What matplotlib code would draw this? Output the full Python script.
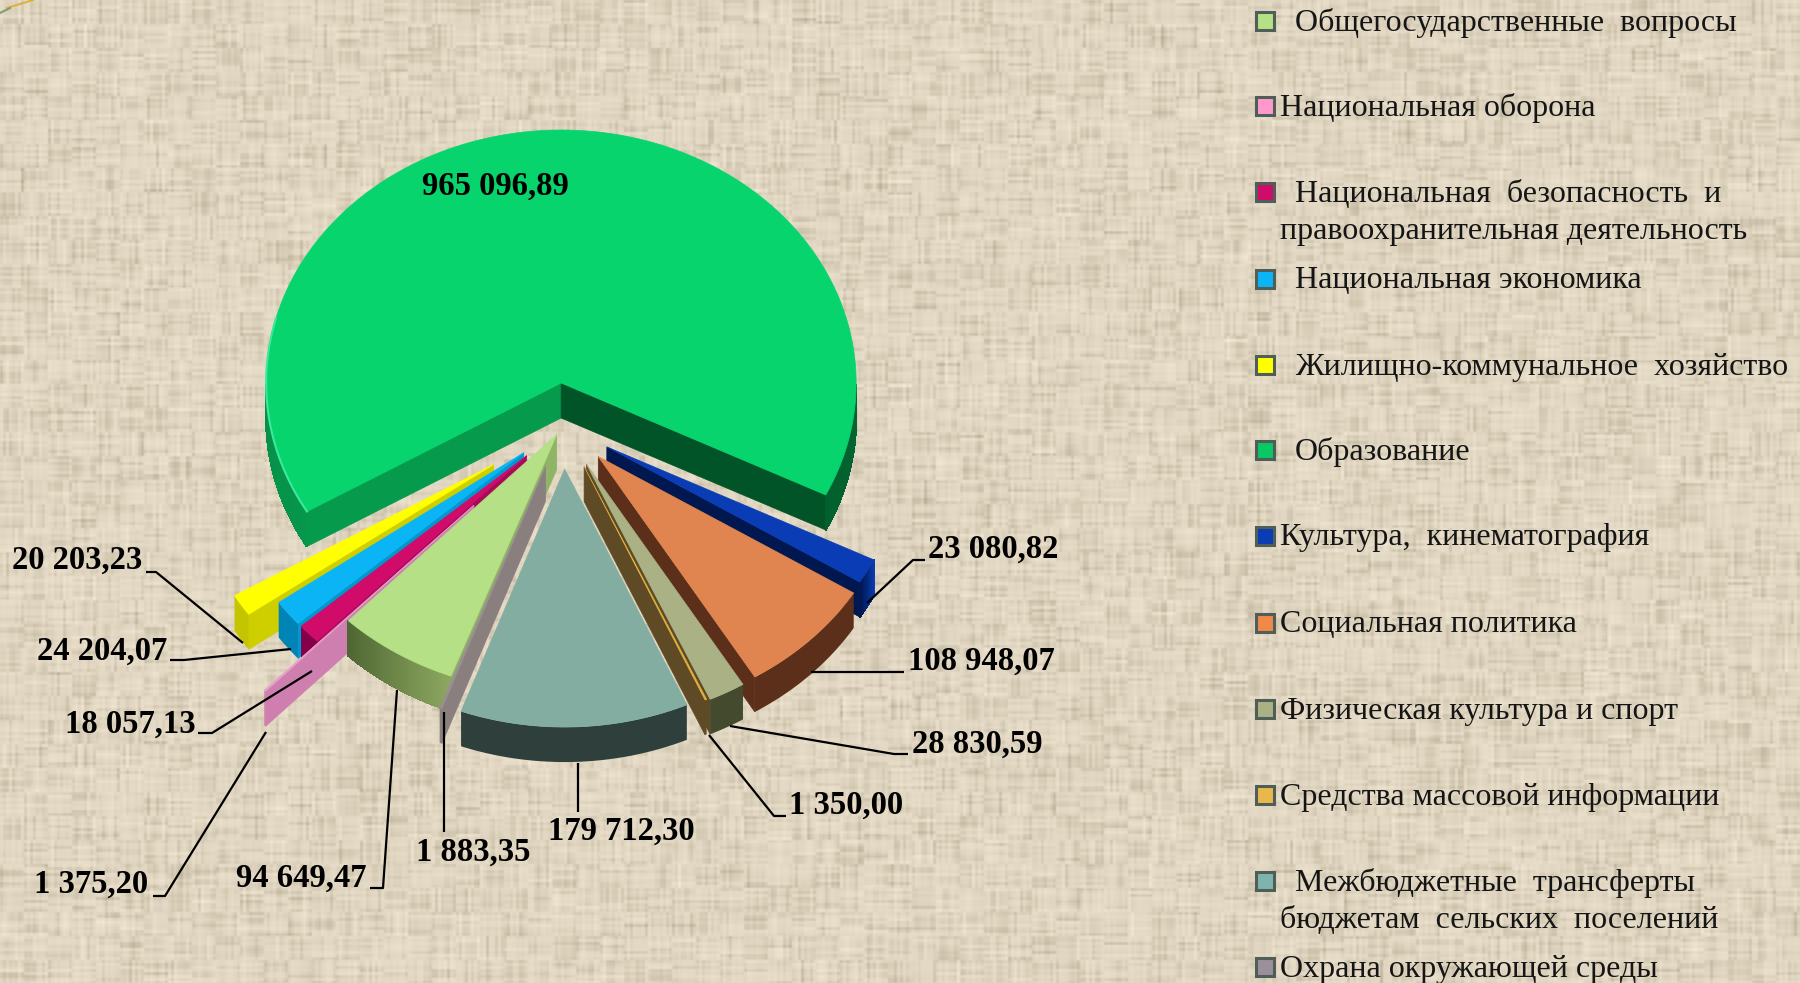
import numpy as np
import matplotlib
matplotlib.use("Agg")
import matplotlib.pyplot as plt
from matplotlib.colors import to_rgb
from matplotlib.patches import Polygon, Rectangle

# legend order, the pie runs clockwise in the same order
values = [94649.47, 1375.20, 18057.13, 24204.07, 20203.23, 965096.89,
          23080.82, 108948.07, 28830.59, 1350.00, 179712.30, 1883.35]
legend_lines = [
    ["Общегосударственные  вопросы"],
    ["Национальная оборона"],
    ["Национальная  безопасность  и", "правоохранительная деятельность"],
    ["Национальная экономика"],
    ["Жилищно-коммунальное  хозяйство"],
    ["Образование"],
    ["Культура,  кинематография"],
    ["Социальная политика"],
    ["Физическая культура и спорт"],
    ["Средства массовой информации"],
    ["Межбюджетные  трансферты", "бюджетам  сельских  поселений"],
    ["Охрана окружающей среды"],
]
legend_y = [21, 106, 192, 279, 365, 450, 536, 623, 709, 795, 881, 967]
legend_x = [1295, 1280, 1295, 1295, 1295, 1295, 1280, 1280, 1280, 1280, 1295, 1280]

top_col = ["#B5E085", "#E8A0C8", "#D00B6A", "#0BB5F5", "#FFFF00", "#07D46D",
           "#0A3DB5", "#E0854F", "#AAB185", "#E0B040", "#84ADA2", "#9A8F8F"]
wall_col = ["#8FB465", "#CF7FAF", "#A80A58", "#0098D0", "#CFCF00", "#059A4C",
            "#00174F", "#5C2F1A", "#5E4B25", "#5E4B25", "#2E3F3C", "#8A7F7F"]
wall2_col = ["#8FB465", "#CF7FAF", "#A80A58", "#0098D0", "#CFCF00", "#015427",
             "#00174F", "#5C2F1A", "#5E4B25", "#5E4B25", "#2E3F3C", "#8A7F7F"]
arc_a = ["#8CA860", "#CF7FAF", "#85004A", "#0083B5", "#C4C400", "#06964C",
         "#0A3DB5", "#5C2F1A", "#444A2E", "#5E4B25", "#2E3F3C", "#8A7F7F"]
arc_b = ["#4F6633", "#CF7FAF", "#85004A", "#0083B5", "#C4C400", "#02602E",
         "#00174F", "#5C2F1A", "#444A2E", "#5E4B25", "#2E3F3C", "#8A7F7F"]
marker_col = ["#B5E085", "#FF99CC", "#D00B6A", "#0BB5F5", "#FFFF00", "#07C864",
              "#0A3DB5", "#F08848", "#AAB185", "#E8B84C", "#7DB5AC", "#9A8F9A"]
explode = [0.04, 0.435, 0.17, 0.17, 0.28, 0.17, 0.17, 0.17, 0.17, 0.175, 0.17, 0.17]
size = [1.02, 1.02, 1.02, 1.02, 1.02, 1.0, 1.01, 1.02, 1.02, 1.01, 1.02, 1.02]
draw_order = [5, 6, 7, 8, 9, 4, 3, 2, 1, 0, 11, 10]

# left edge of each value label, same order as values
label_x = [236, 34, 65, 37, 12, 422, 928, 908, 912, 789, 548, 416]
label_y = [878, 884, 724, 651, 560, 186, 549, 661, 744, 805, 831, 852]

leaders = [
    [(370, 888), (383, 888), (397, 690)],
    [(153, 896), (165, 896), (266, 732)],
    [(198, 733), (212, 733), (312, 671)],
    [(170, 660), (184, 660), (291, 649)],
    [(146, 572), (156, 572), (243, 643)],
    [(925, 560), (913, 560), (867, 603)],
    [(904, 672), (811, 672)],
    [(908, 754), (894, 754), (730, 726)],
    [(786, 816), (774, 816), (709, 735)],
    [(578, 812), (578, 763)],
    [(444, 832), (444, 712)],
]

center = (563, 426)
rx, ry = 295, 253
depth = 35
start = 200.6


def fmt(v):
    return f"{v:,.2f}".replace(",", " ").replace(".", ",")


def rim_xy(apex, scale, a):
    r = np.radians(a)
    return apex[0] + scale * rx * np.sin(r), apex[1] - scale * ry * np.cos(r)


def streaks(shape, run, rng):
    # short woven threads: thin across, long along
    n = rng.normal(0, 1, (shape[0] // 3 + 2, shape[1] // run + 2))
    n = np.kron(n, np.ones((3, run)))[:shape[0], :shape[1]]
    return n


fig = plt.figure(figsize=(18, 9.83), dpi=100)
ax = fig.add_axes([0, 0, 1, 1])
ax.set_xlim(0, 1800)
ax.set_ylim(983, 0)
ax.axis("off")

# woven paper background, decoration only
rng = np.random.default_rng(7)
h, w = 983, 1800
across = streaks((h, w), 24, rng)
along = streaks((w, h), 24, rng).T
weave = (across + along) * 0.5
kernel = np.array([0.25, 0.5, 0.25])
weave = np.apply_along_axis(lambda c: np.convolve(c, kernel, mode="same"), 0, weave)
weave = np.apply_along_axis(lambda c: np.convolve(c, kernel, mode="same"), 1, weave)
tex = np.where(weave < 0, weave * 14, weave * 7)
base = np.array([224, 214, 193], dtype=float)
img = np.clip(base[None, None, :] + tex[:, :, None] * np.array([1.0, 1.0, 1.1]), 0, 255) / 255
ax.imshow(img, extent=(0, 1800, 983, 0), aspect="auto", zorder=0, interpolation="nearest")

fracs = np.array(values) / sum(values) * 360
a0s = start + np.concatenate(([0], np.cumsum(fracs)[:-1]))
a1s = a0s + fracs

for i in draw_order:
    a0, a1 = a0s[i], a1s[i]
    mid = np.radians((a0 + a1) / 2)
    apex = (center[0] + explode[i] * rx * np.sin(mid),
            center[1] - explode[i] * ry * np.cos(mid))
    s = size[i]
    ang = np.linspace(a0, a1, max(8, int((a1 - a0) * 4)))
    xs, ys = rim_xy(apex, s, ang)

    # radial walls facing the viewer
    if np.sin(np.radians(a0)) < 0:
        cx, cy = rim_xy(apex, s, a0)
        ax.add_patch(Polygon([apex, (cx, cy), (cx, cy + depth), (apex[0], apex[1] + depth)],
                             fc=wall_col[i], ec=wall_col[i], lw=0.5, zorder=3))
    if np.sin(np.radians(a1)) > 0:
        cx, cy = rim_xy(apex, s, a1)
        ax.add_patch(Polygon([apex, (cx, cy), (cx, cy + depth), (apex[0], apex[1] + depth)],
                             fc=wall2_col[i], ec=wall2_col[i], lw=0.5, zorder=3))

    # outer face, only the front part of the rim
    c0, c1 = np.array(to_rgb(arc_a[i])), np.array(to_rgb(arc_b[i]))
    mods = ang % 360
    front = (mods > 90) & (mods < 270)
    # the big slice crosses the back, so split its front into two runs
    runs = [front & (ang <= 360), front & (ang > 360)]
    for run in runs:
        if run.sum() < 2:
            continue
        rx_, ry_ = xs[run], ys[run]
        outline = list(zip(rx_, ry_)) + list(zip(rx_[::-1], ry_[::-1] + depth))
        t = np.where(run)[0] / max(1, len(ang) - 1)
        ax.add_patch(Polygon(outline, fc=c0 + (c1 - c0) * t.mean(), ec="none", zorder=3))
        if arc_a[i] != arc_b[i]:
            for k in range(len(rx_) - 1):
                col = c0 + (c1 - c0) * t[k]
                ax.add_patch(Polygon([(rx_[k], ry_[k]), (rx_[k + 1], ry_[k + 1]),
                                      (rx_[k + 1], ry_[k + 1] + depth), (rx_[k], ry_[k] + depth)],
                                     fc=col, ec=col, lw=0.8, zorder=3, antialiased=False))

    # top face
    ax.add_patch(Polygon([apex] + list(zip(xs, ys)), fc=top_col[i], ec=top_col[i],
                         lw=0.5, zorder=3))
    if i == 5:
        rim = (mods > 180) & (mods < 285)
        ax.plot(xs[rim], ys[rim], color="#3CE89A", lw=1.5, zorder=3)

for pts in leaders:
    px, py = zip(*pts)
    ax.plot(px, py, color="black", lw=1.6, zorder=4, solid_capstyle="butt")

for i, v in enumerate(values):
    ax.text(label_x[i], label_y[i], fmt(v), family="Liberation Serif", weight="bold",
            fontsize=23.5, color="black", ha="left", va="center", zorder=5)

# legend
for i, lines in enumerate(legend_lines):
    y = legend_y[i]
    ax.add_patch(Rectangle((1256, y - 9), 18, 18, fc=marker_col[i], ec="#4F5F58", lw=2.2, zorder=4))
    ax.text(legend_x[i], y + 2, lines[0], family="Liberation Serif", fontsize=23,
            color="#151515", ha="left", va="center", zorder=5)
    if len(lines) > 1:
        ax.text(1280, y + 39, lines[1], family="Liberation Serif", fontsize=23,
                color="#151515", ha="left", va="center", zorder=5)

# stray lines in the corner of the slide
ax.plot([7, 33], [8, 0], color="#E0B040", lw=1.5, zorder=2)
ax.plot([0, 10], [13, 8], color="#7F9F70", lw=1.5, zorder=2)

fig.savefig("out.png", dpi=100)
